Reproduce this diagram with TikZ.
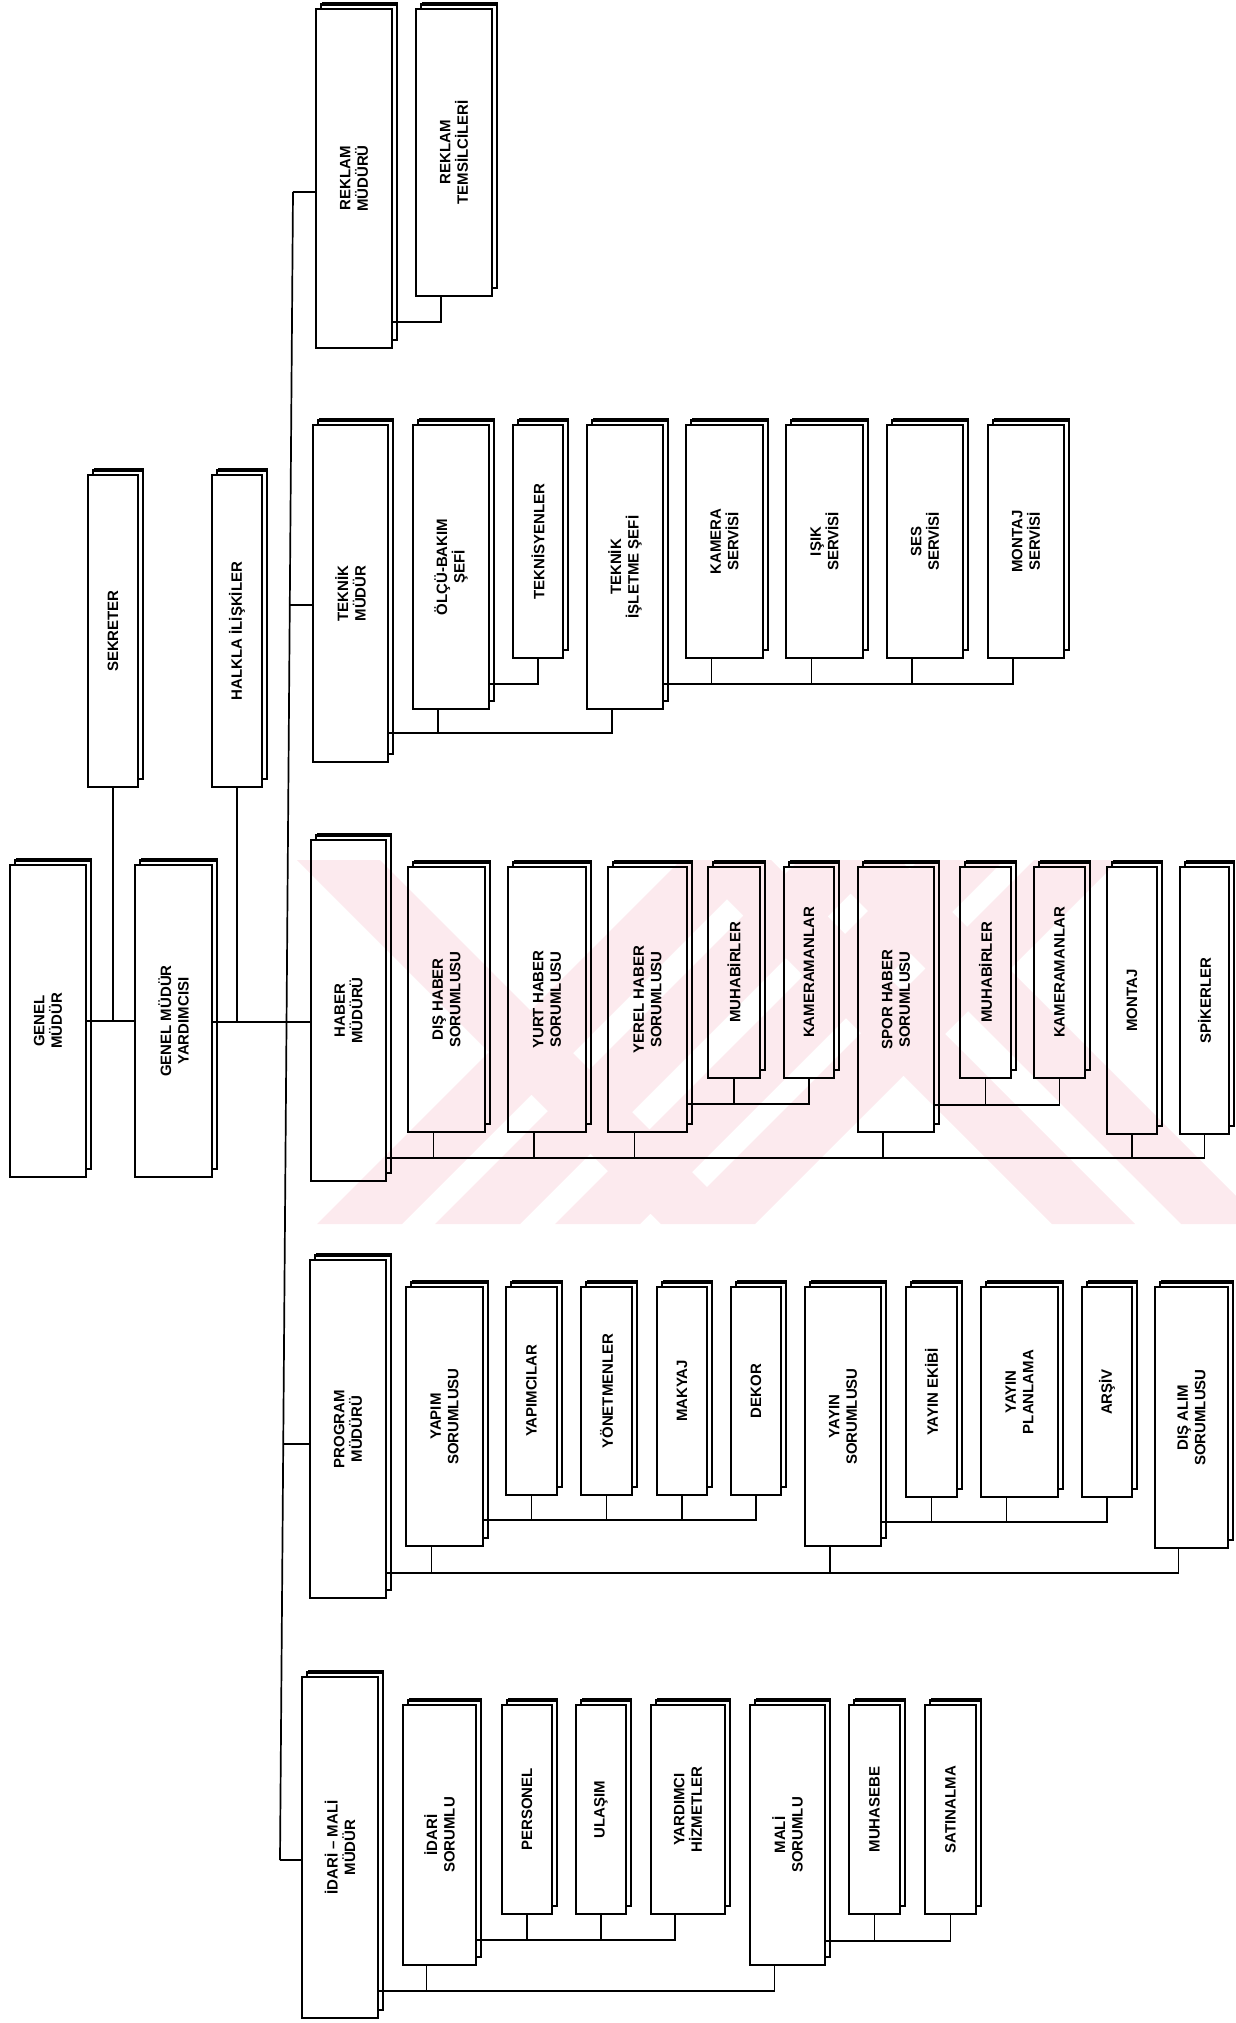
\documentclass[tikz,border=0pt]{standalone}
\usepackage{fontspec}
\setmainfont{Liberation Sans}
\usetikzlibrary{calc}
\definecolor{wmpink}{RGB}{252,234,238}
\newcommand\orgbox[6]{%
  \draw[shad] (#2+5,#3-5) rectangle (#4+5,#5-8);
  \fill (#2+6,#3-7) rectangle (#4+6,#3-3);
  \node[box, minimum width={(#4-#2)*1pt}, minimum height={(#5-#3)*1pt}] (#1) at ({(#2+#4)/2},{(#3+#5)/2}) {};
  \node[lbl] (#1-t) at (#1.center) {#6};
}
\newcommand\wdrop[1]{\coordinate (#1-d) at ($(#1.south)+(-13,0)$);}
\newcommand\ndrop[1]{\coordinate (#1-d) at (#1.south);}
\begin{document}
\begin{tikzpicture}[x=1pt,y=-1pt,
  box/.style={draw, fill=white, line width=1.8pt, inner sep=0pt, outer sep=0pt, rectangle},
  shad/.style={draw, fill=white, line width=1.2pt},
  lbl/.style={rotate=90, align=center, font=\fontsize{15}{17.5}\selectfont\bfseries, inner sep=0pt},
  conn/.style={line width=1.7pt}]
\useasboundingbox (0,0) rectangle (1235,2023);

% top level
\orgbox{gm}{10}{865}{86}{1177}{GENEL\\MÜDÜR}
\orgbox{gmy}{135}{865}{212}{1177}{GENEL MÜDÜR\\YARDIMCISI}
\orgbox{sek}{88}{475}{138}{787}{SEKRETER}
\orgbox{hal}{212}{475}{262}{787}{HALKLA İLİŞKİLER}

% reklam
\orgbox{rek}{316}{9}{392}{348}{REKLAM\\MÜDÜRÜ}
\orgbox{rtem}{416}{9}{492}{296}{REKLAM\\TEMSİLCİLERİ}

% teknik
\orgbox{tek}{313}{425}{388}{762}{TEKNİK\\MÜDÜR}
\orgbox{olc}{413}{425}{489}{709}{ÖLÇÜ-BAKIM\\ŞEFİ}
\orgbox{tks}{513}{425}{563}{658}{TEKNİSYENLER}
\orgbox{isl}{587}{425}{663}{709}{TEKNİK\\İŞLETME ŞEFİ}
\orgbox{kam}{686}{425}{763}{658}{KAMERA\\SERVİSİ}
\orgbox{isk}{786}{425}{863}{658}{IŞIK\\SERVİSİ}
\orgbox{ses}{887}{425}{963}{658}{SES\\SERVİSİ}
\orgbox{mon}{988}{425}{1064}{658}{MONTAJ\\SERVİSİ}

% haber
\orgbox{hab}{311}{840}{386}{1181}{HABER\\MÜDÜRÜ}
\orgbox{dis}{408}{867}{485}{1132}{DIŞ HABER\\SORUMLUSU}
\orgbox{yurt}{508}{867}{586}{1132}{YURT HABER\\SORUMLUSU}
\orgbox{yer}{608}{867}{687}{1132}{YEREL HABER\\SORUMLUSU}
\orgbox{muh1}{708}{867}{760}{1078}{MUHABİRLER}
\orgbox{kam1}{784}{867}{834}{1078}{KAMERAMANLAR}
\orgbox{spor}{858}{867}{934}{1132}{SPOR HABER\\SORUMLUSU}
\orgbox{muh2}{960}{867}{1011}{1078}{MUHABİRLER}
\orgbox{kam2}{1034}{867}{1085}{1078}{KAMERAMANLAR}
\orgbox{mnt}{1107}{867}{1157}{1134}{MONTAJ}
\orgbox{spk}{1180}{867}{1229}{1134}{SPİKERLER}

% program
\orgbox{prg}{310}{1260}{386}{1598}{PROGRAM\\MÜDÜRÜ}
\orgbox{yap}{406}{1287}{483}{1546}{YAPIM\\SORUMLUSU}
\orgbox{ypc}{506}{1287}{557}{1495}{YAPIMCILAR}
\orgbox{yon}{581}{1287}{632}{1495}{YÖNETMENLER}
\orgbox{mak}{657}{1287}{707}{1495}{MAKYAJ}
\orgbox{dek}{731}{1287}{781}{1495}{DEKOR}
\orgbox{yay}{805}{1287}{881}{1546}{YAYIN\\SORUMLUSU}
\orgbox{yek}{906}{1287}{957}{1497}{YAYIN EKİBİ}
\orgbox{ypl}{981}{1287}{1058}{1497}{YAYIN\\PLANLAMA}
\orgbox{ars}{1082}{1287}{1132}{1497}{ARŞİV}
\orgbox{dal}{1155}{1287}{1228}{1548}{DIŞ ALIM\\SORUMLUSU}

% idari
\orgbox{idm}{302}{1677}{378}{2018}{İDARİ -- MALİ\\MÜDÜR}
\orgbox{ids}{403}{1705}{476}{1965}{İDARİ\\SORUMLU}
\orgbox{per}{502}{1705}{552}{1914}{PERSONEL}
\orgbox{ula}{576}{1705}{626}{1914}{ULAŞIM}
\orgbox{yrd}{651}{1705}{725}{1914}{YARDIMCI\\HİZMETLER}
\orgbox{mal}{750}{1705}{825}{1965}{MALİ\\SORUMLU}
\orgbox{mhs}{849}{1705}{900}{1914}{MUHASEBE}
\orgbox{sat}{925}{1705}{976}{1914}{SATINALMA}

% drop points
\wdrop{rtem}
\wdrop{olc}\ndrop{tks}\wdrop{isl}\wdrop{kam}\wdrop{isk}\wdrop{ses}\wdrop{mon}
\wdrop{dis}\wdrop{yurt}\wdrop{yer}\ndrop{muh1}\ndrop{kam1}\wdrop{spor}\ndrop{muh2}\ndrop{kam2}\ndrop{mnt}\ndrop{spk}
\wdrop{yap}\ndrop{ypc}\ndrop{yon}\ndrop{mak}\ndrop{dek}\wdrop{yay}\ndrop{yek}\wdrop{ypl}\ndrop{ars}\wdrop{dal}
\wdrop{ids}\ndrop{per}\ndrop{ula}\wdrop{yrd}\wdrop{mal}\ndrop{mhs}\ndrop{sat}

% trunk
\coordinate (ttop) at (293,192);
\coordinate (tbot) at (280,1860);
\coordinate (t2) at ($(ttop)!0.2476!(tbot)$);
\coordinate (t3) at ($(ttop)!0.4976!(tbot)$);
\coordinate (t4) at ($(ttop)!0.7506!(tbot)$);
\draw[conn] (ttop) -- (tbot);
\draw[conn] (ttop) -- (rek.west |- ttop);
\draw[conn] (t2) -- (tek.west |- t2);
\draw[conn] (gmy.east |- t3) -- (hab.west |- t3);
\draw[conn] (t4) -- (prg.west |- t4);
\draw[conn] (tbot) -- (idm.west |- tbot);

% top level connectors
\draw[conn] (gm.east) -- (gmy.west);
\draw[conn] (sek.south) -- (sek.south |- gm.east);
\draw[conn] (hal.south) -- (hal.south |- t3);

% reklam
\draw[conn] (rek.east |- 0,322) -| (rtem-d);

% teknik
\draw[conn] (tek.east |- 0,733) -| (isl-d);
\draw[conn] (olc-d) -- (olc-d |- 0,733);
\draw[conn] (olc.east |- 0,684) -| (tks-d);
\draw[conn] (isl.east |- 0,684) -| (mon-d);
\foreach \n in {kam,isk,ses} \draw[conn] (\n-d) -- (\n-d |- 0,684);

% haber
\draw[conn] (hab.east |- 0,1158) -| (spk-d);
\foreach \n in {dis,yurt,yer,spor,mnt} \draw[conn] (\n-d) -- (\n-d |- 0,1158);
\draw[conn] (yer.east |- 0,1104) -| (kam1-d);
\draw[conn] (muh1-d) -- (muh1-d |- 0,1104);
\draw[conn] (spor.east |- 0,1105) -| (kam2-d);
\draw[conn] (muh2-d) -- (muh2-d |- 0,1105);

% program
\draw[conn] (prg.east |- 0,1573) -| (dal-d);
\foreach \n in {yap,yay} \draw[conn] (\n-d) -- (\n-d |- 0,1573);
\draw[conn] (yap.east |- 0,1520) -| (dek-d);
\foreach \n in {ypc,yon,mak} \draw[conn] (\n-d) -- (\n-d |- 0,1520);
\draw[conn] (yay.east |- 0,1522) -| (ars-d);
\foreach \n in {yek,ypl} \draw[conn] (\n-d) -- (\n-d |- 0,1522);

% idari
\draw[conn] (idm.east |- 0,1991) -| (mal-d);
\draw[conn] (ids-d) -- (ids-d |- 0,1991);
\draw[conn] (ids.east |- 0,1940) -| (yrd-d);
\foreach \n in {per,ula} \draw[conn] (\n-d) -- (\n-d |- 0,1940);
\draw[conn] (mal.east |- 0,1941) -| (sat-d);
\draw[conn] (mhs-d) -- (mhs-d |- 0,1941);

% watermark
\begin{scope}[blend mode=multiply]
\fill[wmpink]
  (317,1224) -- (402,1224) -- (766,860) -- (681,860) -- cycle
  (435,1224) -- (520,1224) -- (884,860) -- (799,860) -- cycle
  (555,1224) -- (640,1224) -- (1004,860) -- (919,860) -- cycle
  (670,1224) -- (755,1224) -- (1119,860) -- (1034,860) -- cycle
  (1052,1224) -- (1135,1224) -- (771,860) -- (688,860) -- cycle
  (1181,1224) -- (1264,1224) -- (900,860) -- (817,860) -- cycle
  (661,1224) -- (744,1224) -- (380,860) -- (297,860) -- cycle;
\end{scope}
\end{tikzpicture}
\end{document}
